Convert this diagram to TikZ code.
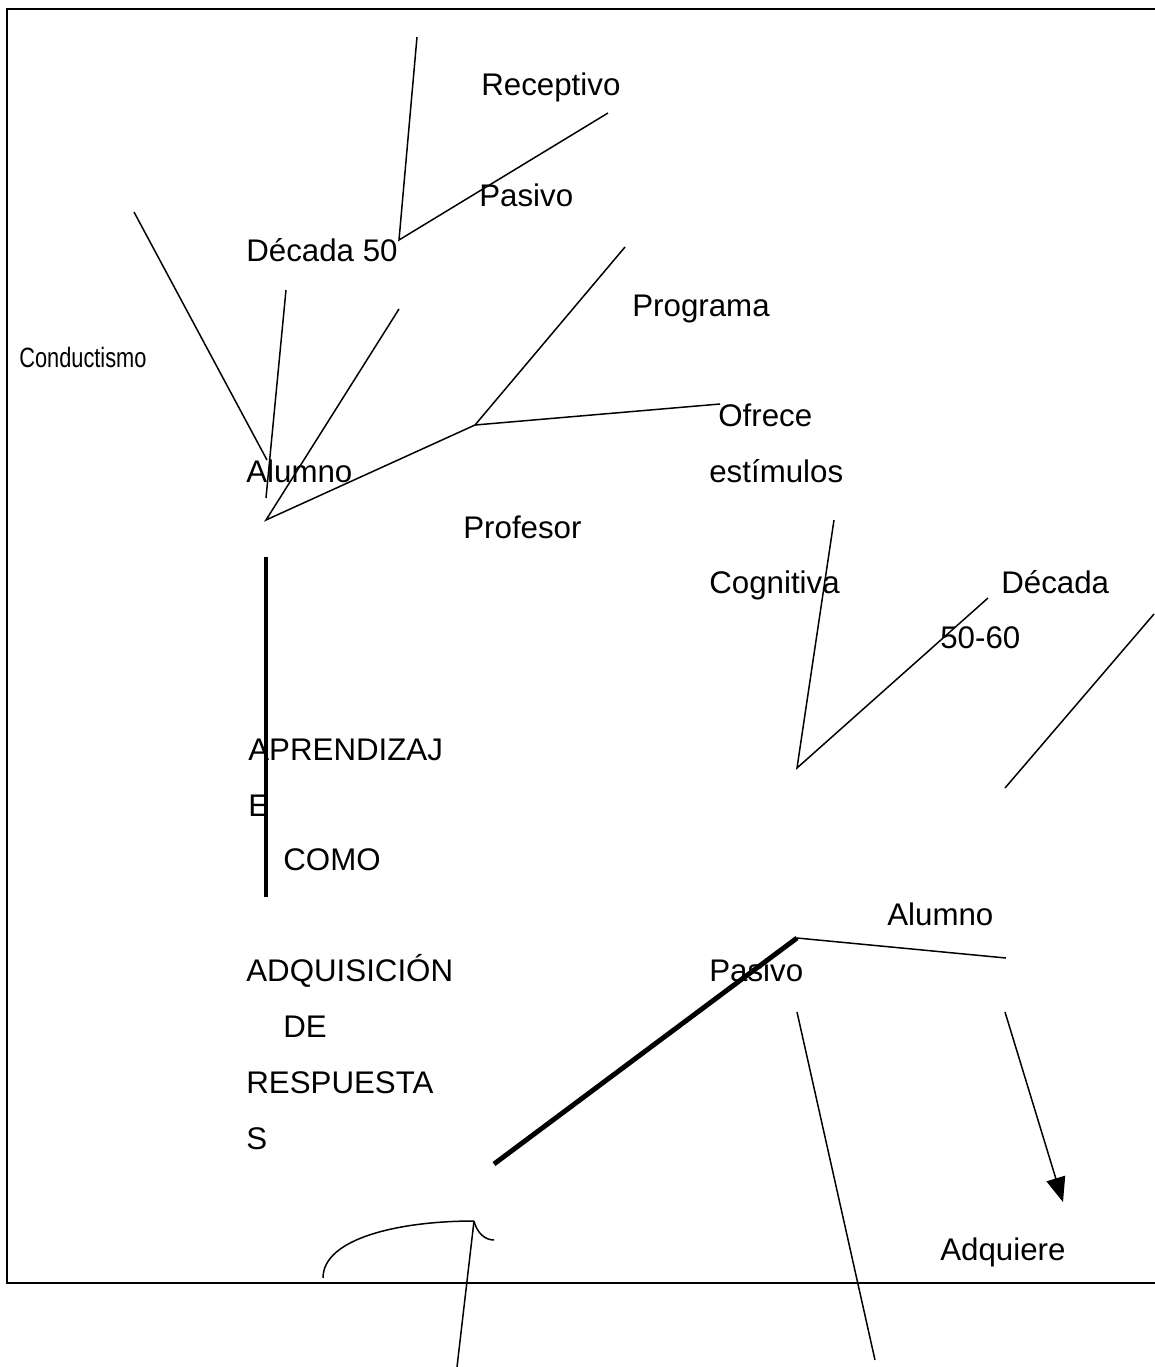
\documentclass[tikz,border=0pt]{standalone}
\usepackage{fontspec}
\setmainfont{Liberation Sans}
\usepackage{graphicx}
\usetikzlibrary{arrows.meta}

\tikzset{
  lbl/.style={anchor=base west, inner sep=0pt, font=\fontsize{17.8}{20}\selectfont},
  thinline/.style={line width=0.85pt},
  thickline/.style={line width=2.8pt}
}

\begin{document}
\begin{tikzpicture}[x=0.02cm, y=-0.02cm]
    \useasboundingbox (0,0) rectangle (1154,1367);
    \draw[line width=1.4pt] (1170,9) -- (7,9) -- (7,1283) -- (1170,1283); % frame, right side off the page

    % texts
    \node[lbl] (receptivo) at (481,95) {Receptivo};
    \node[lbl] (pasivoA) at (479,206) {Pasivo};
    \node[lbl] (decada) at (246,261) {Década 50};
    \node[lbl] (programa) at (632,316) {Programa};
    \node[lbl, font=\fontsize{15.9}{18}\selectfont] (conduct) at (19,367) {\scalebox{0.78}[1]{Conductismo}};
    \node[lbl] (ofrece) at (718,426) {Ofrece};
    \node[lbl] (alumnoA) at (246,482) {Alumno};
    \node[lbl] (estimulos) at (709,482) {estímulos};
    \node[lbl] (profesor) at (463,538) {Profesor};
    \node[lbl] (cognitiva) at (709,593) {Cognitiva};
    \node[lbl] (decadaB) at (1001,593) {Década};
    \node[lbl] (anios) at (940,648) {50-60};
    \node[lbl] (aprend) at (248,760) {APRENDIZAJ};
    \node[lbl] (aprendE) at (248,816) {E};
    \node[lbl] (como) at (283,870) {COMO};
    \node[lbl] (alumnoB) at (887,925) {Alumno};
    \node[lbl] (adquis) at (246,981) {ADQUISICIÓN};
    \node[lbl] (pasivoB) at (709,981) {Pasivo};
    \node[lbl] (de) at (283,1037) {DE};
    \node[lbl] (respuesta) at (246,1093) {RESPUESTA};
    \node[lbl] (respS) at (246,1149) {S};
    \node[lbl] (adquiere) at (940,1260) {Adquiere};

    % free ends of the strokes
    \coordinate (d50) at (399,240);
    \coordinate (d50top) at (417,37);
    \coordinate (d50right) at (608,113);
    \coordinate (al1a) at (134,212);
    \coordinate (al1b) at (267,460);
    \coordinate (al2a) at (286,290);
    \coordinate (al2b) at (266,498);
    \coordinate (al3a) at (399,309);
    \coordinate (alfoot) at (266,520);
    \coordinate (prof) at (475,425);
    \coordinate (progend) at (625,247);
    \coordinate (ofrend) at (720,404);
    \coordinate (cogtop) at (834,520);
    \coordinate (cogfoot) at (797,768);
    \coordinate (cogright) at (988,598);
    \coordinate (rtop) at (1154,614);
    \coordinate (rfoot) at (1005,788);
    \coordinate (vtop) at (266,557);
    \coordinate (vbot) at (266,897);
    \coordinate (pastail) at (494,1164);
    \coordinate (pashead) at (797,938);
    \coordinate (alend) at (1006,958);
    \coordinate (dtop) at (797,1012);
    \coordinate (dbot) at (875,1360);
    \coordinate (atop) at (1005,1012);
    \coordinate (atip) at (1063,1202);
    \coordinate (arcfoot) at (323,1278);
    \coordinate (arctop) at (474,1221);
    \coordinate (hook) at (494,1240);
    \coordinate (lbot) at (457,1367);

    \draw[thinline] (d50top) -- (d50) -- (d50right);
    \draw[thinline] (al1a) -- (al1b);
    \draw[thinline] (al2a) -- (al2b);
    \draw[thinline] (al3a) -- (alfoot) -- (prof) -- (progend);
    \draw[thinline] (prof) -- (ofrend);
    \draw[thinline] (cogtop) -- (cogfoot) -- (cogright);
    \draw[thinline] (rtop) -- (rfoot);
    \draw[thickline] (vtop) -- (vbot);
    \draw[thickline] (pastail) -- (pashead);
    \draw[thinline] (pashead) -- (alend);
    \draw[thinline] (dtop) -- (dbot);
    \draw[thinline, -{Triangle[length=14, width=11]}] (atop) -- (atip);
    \draw[thinline] (arcfoot) .. controls (323,1238) and (400,1221) .. (arctop);
    \draw[thinline] (arctop) .. controls (477,1233) and (485,1240) .. (hook);
    \draw[thinline] (arctop) -- (lbot);
\end{tikzpicture}
\end{document}
